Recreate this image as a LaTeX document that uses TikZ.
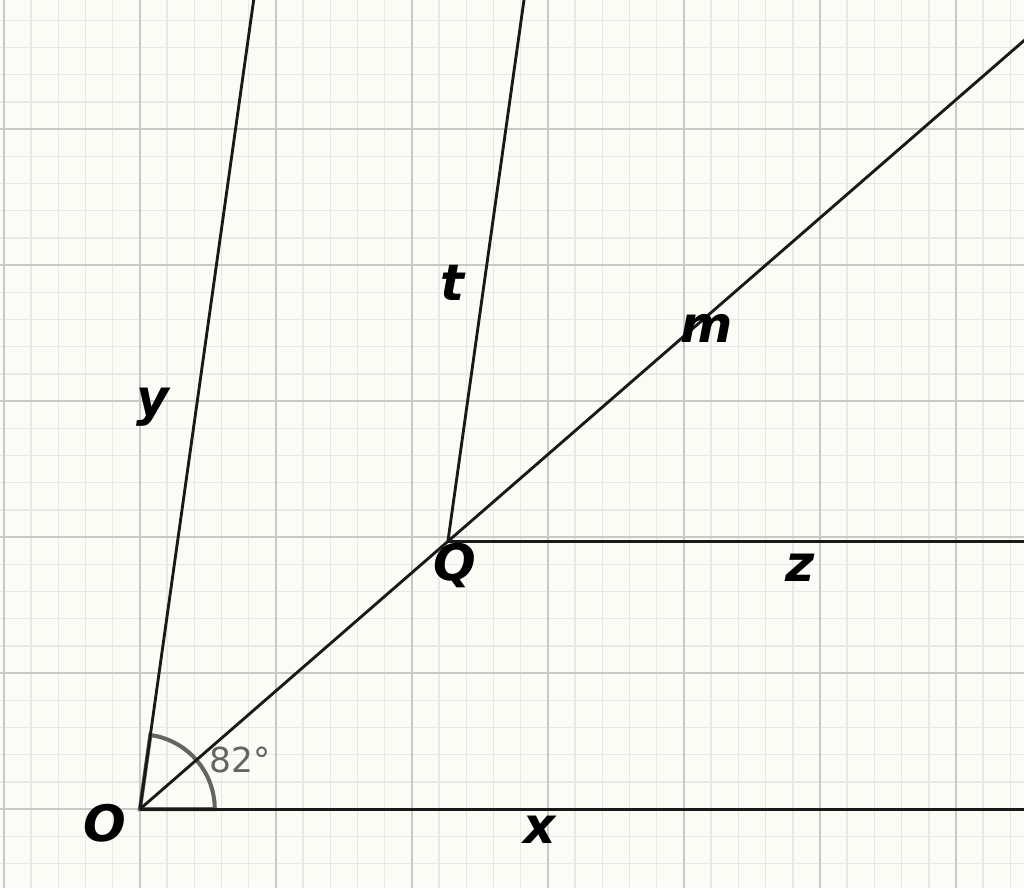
\documentclass[tikz,border=0pt]{standalone}
\usepackage{fontspec}
\usepackage{xcolor}
\usetikzlibrary{calc}
\newfontfamily\labelfont{DejaVu Sans}
\definecolor{paper}{RGB}{252,252,247}
\definecolor{gridminor}{RGB}{232,232,228}
\definecolor{gridmajor}{RGB}{200,200,197}
\definecolor{anglegray}{RGB}{100,100,100}

\begin{document}
\begin{tikzpicture}[
    ray/.style={draw, line width=0.6pt, black!90},
    minorgrid/.style={gridminor, line width=0.3pt},
    majorgrid/.style={gridmajor, line width=0.4pt},
    lbl/.style={inner sep=0pt, font=\labelfont\bfseries\itshape\fontsize{10.5}{12}\selectfont},
    anglelbl/.style={inner sep=0pt, anglegray, font=\labelfont\fontsize{7.2}{8}\selectfont}
  ]

% Paper and frame
\useasboundingbox (-1.029,-0.574) rectangle (6.5,5.949);
\fill[paper] (-1.029,-0.574) rectangle (6.5,5.949);
\clip (-1.029,-0.574) rectangle (6.5,5.949);

% Grid
\draw[minorgrid, step=0.2] (-1.2,-0.8) grid (6.6,6.2);
\draw[majorgrid, step=1] (-1.2,-0.8) grid (6.6,6.2);

% Points
\coordinate (O) at (0,0);
\coordinate (Q) at (41:3);
\coordinate (xend) at (7,0);
\coordinate (yend) at (82:7);
\coordinate (mend) at (41:10);
\coordinate (zend) at ($(Q)+(6,0)$);
\coordinate (tend) at ($(Q)+(82:5)$);

% Angle at O
\draw[anglegray, line width=0.85pt] (O) -- (0:0.55) arc (0:82:0.55) -- cycle;

% Rays
\draw[ray] (O) -- (xend);
\draw[ray] (O) -- (yend);
\draw[ray] (O) -- (mend);
\draw[ray] (Q) -- (zend);
\draw[ray] (Q) -- (tend);

% Labels
\node[lbl] (labO) at (-0.257,-0.103) {O};
\node[lbl] (labQ) at (2.316,1.794) {Q};
\node[lbl] (labx) at (2.941,-0.154) {x};
\node[lbl] (laby) at (0.096,2.956) {y};
\node[lbl] (labz) at (4.853,1.772) {z};
\node[lbl] (labt) at (2.301,3.868) {t};
\node[lbl] (labm) at (4.169,3.537) {m};
\node[anglelbl] (lab82) at (0.735,0.36) {82°};

\end{tikzpicture}
\end{document}
